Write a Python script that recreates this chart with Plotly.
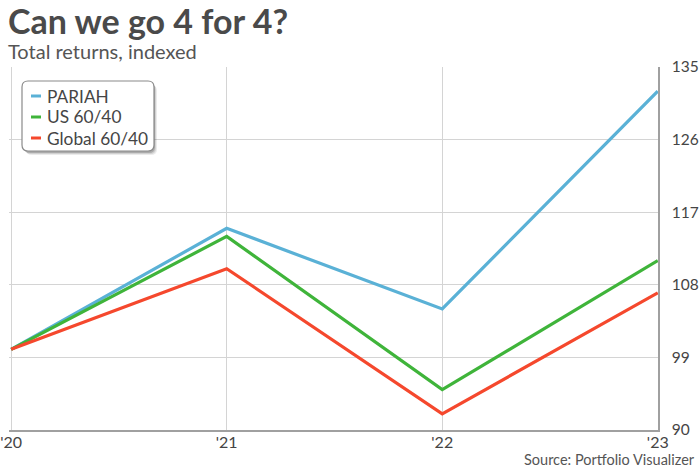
import plotly.graph_objects as go

years = [2020, 2021, 2022, 2023]
year_labels = ["'20", "'21", "'22", "'23"]

pariah = [100, 115, 105, 132]
us_6040 = [100, 114, 95, 111]
global_6040 = [100, 110, 92, 107]

series_names = ["PARIAH", "US 60/40", "Global 60/40"]
series_colors = ["#5AB1D6", "#3FB43A", "#F5482D"]

y_ticks = [90, 99, 108, 117, 126, 135]

W, H = 700, 471
L, R, T, B = 9, 42, 67, 41


def px(x):
    return (x - L) / (W - L - R)


def py(y):
    return (H - B - y) / (H - T - B)


def rounded_box(x0, y0, x1, y1, r):
    # path in paper coords from pixel corners
    pts = [
        f"M{px(x0 + r)},{py(y0)}",
        f"L{px(x1 - r)},{py(y0)}",
        f"Q{px(x1)},{py(y0)} {px(x1)},{py(y0 + r)}",
        f"L{px(x1)},{py(y1 - r)}",
        f"Q{px(x1)},{py(y1)} {px(x1 - r)},{py(y1)}",
        f"L{px(x0 + r)},{py(y1)}",
        f"Q{px(x0)},{py(y1)} {px(x0)},{py(y1 - r)}",
        f"L{px(x0)},{py(y0 + r)}",
        f"Q{px(x0)},{py(y0)} {px(x0 + r)},{py(y0)}",
        "Z",
    ]
    return " ".join(pts)


fig = go.Figure()

for name, vals, color in zip(series_names, [pariah, us_6040, global_6040], series_colors):
    fig.add_trace(go.Scatter(x=years, y=vals, name=name, mode='lines',
                             line=dict(color=color, width=3.2), showlegend=False))

shapes = []
# legend shadow + box
for off, op in [(4, 0.10), (3, 0.15), (2, 0.25)]:
    shapes.append(dict(type='path', xref='paper', yref='paper',
                       path=rounded_box(22 + off, 81 + off, 154 + off - 1, 151 + off, 6),
                       fillcolor=f'rgba(60,60,60,{op})', line=dict(width=0)))
shapes.append(dict(type='path', xref='paper', yref='paper',
                   path=rounded_box(22, 81, 154, 151, 6),
                   fillcolor='white', line=dict(color='#8a8a8a', width=1.2)))

annotations = []
for i, (name, color) in enumerate(zip(series_names, series_colors)):
    yy = 96 + i * 21
    shapes.append(dict(type='line', xref='paper', yref='paper',
                       x0=px(31), x1=px(41), y0=py(yy), y1=py(yy),
                       line=dict(color=color, width=3)))
    annotations.append(dict(text=name, xref='paper', yref='paper', x=px(45), y=py(yy),
                            xanchor='left', yanchor='middle', showarrow=False,
                            font=dict(family='Lato', size=17.3, color='#454545')))

annotations += [
    dict(text='<b>Can we go 4 for 4?</b>', xref='paper', yref='paper', x=px(6), y=py(-2),
         xanchor='left', yanchor='top', showarrow=False,
         font=dict(family='Lato', size=34, color='#4a4a4a')),
    dict(text='Total returns, indexed', xref='paper', yref='paper', x=px(6), y=py(37),
         xanchor='left', yanchor='top', showarrow=False,
         font=dict(family='Lato', size=20, color='#555555')),
    dict(text='Source: Portfolio Visualizer', xref='paper', yref='paper', x=px(697), y=py(459),
         xanchor='right', yanchor='middle', showarrow=False,
         font=dict(family='Lato', size=14.5, color='#555555')),
]

fig.update_layout(
    width=W, height=H,
    margin=dict(l=L, r=R, t=T, b=B, pad=0, autoexpand=False),
    plot_bgcolor='white', paper_bgcolor='white',
    shapes=shapes, annotations=annotations,
    font=dict(family='Lato', color='#444444'),
)

fig.update_xaxes(range=[2019.99, 2023.001], tickvals=years, ticktext=year_labels,
                 showgrid=True, gridcolor='#d4d4d4', gridwidth=1,
                 showline=True, linecolor='#a0a0a0', linewidth=1.5,
                 ticks='', ticklabelstandoff=-3, automargin=False,
                 tickfont=dict(family='Lato', size=16, color='#454545'),
                 zeroline=False)
fig.update_yaxes(range=[90, 135], tickvals=y_ticks, side='right',
                 showgrid=True, gridcolor='#d4d4d4', gridwidth=1,
                 showline=True, linecolor='#a0a0a0', linewidth=1.5,
                 ticks='', ticklabelstandoff=9, automargin=False,
                 tickfont=dict(family='Lato', size=15.5, color='#454545'),
                 zeroline=False)

fig.write_html("out.html", config={'displayModeBar': False},
               post_script="document.body.style.margin='0px';")
